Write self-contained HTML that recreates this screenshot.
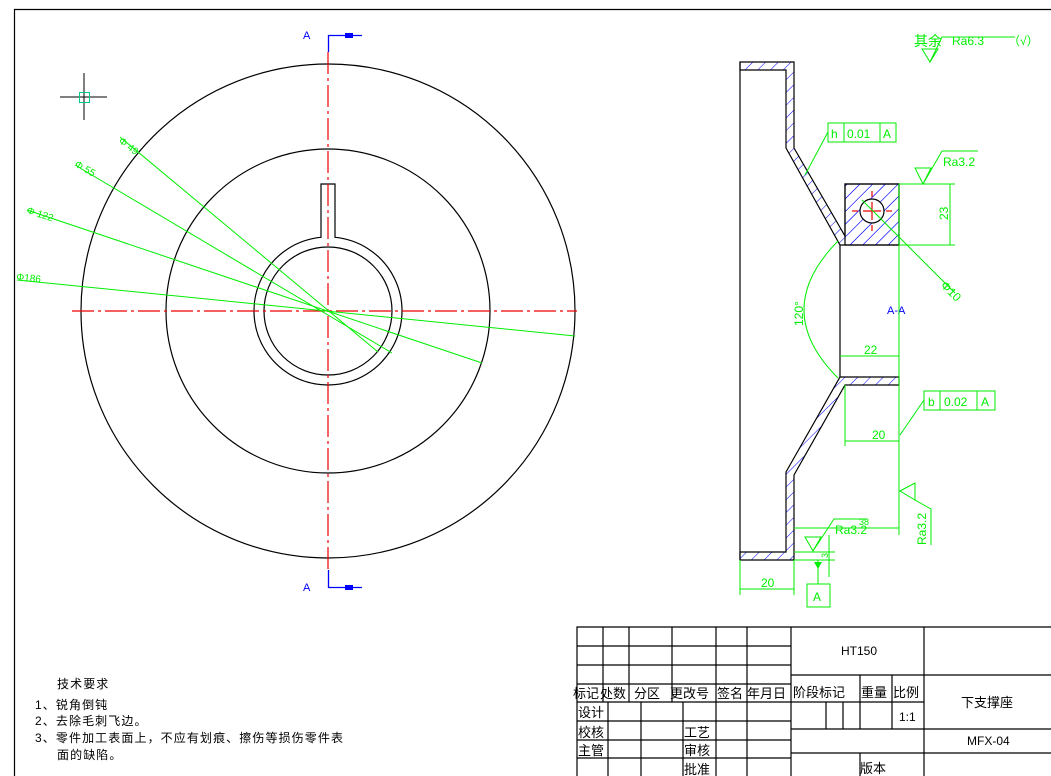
<!DOCTYPE html>
<html><head><meta charset="utf-8"><style>
html,body{margin:0;padding:0;background:#fff;}
svg{display:block}
text{font-family:"Liberation Sans","Noto Sans CJK SC",sans-serif;}
</style></head><body>
<svg width="1051" height="776" viewBox="0 0 1051 776" xmlns="http://www.w3.org/2000/svg">
<defs>
<pattern id="h" patternUnits="userSpaceOnUse" width="9" height="9" patternTransform="rotate(45)">
<line x1="0" y1="0" x2="0" y2="9" stroke="#00f" stroke-width="1"/>
</pattern>
</defs>
<rect width="1051" height="776" fill="#fff"/>
<path d="M14.5 776 V9.5 H1051" fill="none" stroke="#000" stroke-width="1.2"/>

<g stroke="#000" stroke-width="1"><line x1="60" y1="97" x2="107" y2="97"/><line x1="84" y1="73" x2="84" y2="120"/></g>
<rect x="79.5" y="92.5" width="10" height="10" fill="none" stroke="#0c8" stroke-width="1"/>

<g fill="none" stroke="#000" stroke-width="1.2">
<circle cx="328" cy="311" r="247"/>
<circle cx="328" cy="311" r="162"/>
<circle cx="328" cy="311" r="64"/>
<path d="M321 237.3 A74 74 0 1 0 335 237.3 V184 H321 Z" fill="none"/>
</g>
<g stroke="#e00" stroke-width="1.2" stroke-dasharray="22,4,3,4">
<line x1="328" y1="52" x2="328" y2="572"/>
<line x1="72" y1="311" x2="577" y2="311"/>
</g>
<g stroke="#00f" stroke-width="1.3" fill="none">
<path d="M328.5 52 V35.5 H362"/><path d="M328.5 570 V587.5 H362"/>
</g>
<rect x="345" y="33" width="8" height="5" fill="#00f"/><rect x="345" y="585" width="8" height="5" fill="#00f"/>
<text x="303" y="39" font-size="11" fill="#00f">A</text>
<text x="303" y="591" font-size="11" fill="#00f">A</text>

<g stroke="#0e0" stroke-width="1">
<line x1="17" y1="280" x2="575" y2="336"/>
<line x1="27" y1="210" x2="482" y2="363"/>
<line x1="75" y1="165" x2="392" y2="353"/>
<line x1="120" y1="137" x2="378" y2="352"/>
</g>
<g fill="#0e0" font-size="10">
<text x="16" y="280" transform="rotate(6 16 280)">Φ186</text>
<text x="26" y="213" transform="rotate(18 26 213)">Φ 122</text>
<text x="74" y="166" transform="rotate(30 74 166)">Φ 55</text>
<text x="118" y="142" transform="rotate(38 118 142)">Φ 49</text>
</g>

<g stroke="#000" stroke-width="1.2">
<path d="M740 62 H794 V148 L845 236 V184 H899 V245 H840 L786 148 V70 H740 Z" fill="url(#h)"/>
<path d="M840 377 H899 V385 H845 L794 475 V560 H740 V552 H786 V472 Z" fill="url(#h)"/>
<rect x="845" y="184" width="54" height="61" fill="url(#h)"/>
<line x1="740" y1="62" x2="740" y2="560"/>
<line x1="840" y1="245" x2="840" y2="377"/>
<circle cx="872" cy="211" r="12" fill="#fff"/>
</g>
<g stroke="#e00" stroke-width="1.2"><line x1="863" y1="211" x2="881" y2="211"/><line x1="872" y1="202" x2="872" y2="220"/><line x1="852" y1="211" x2="858" y2="211"/><line x1="886" y1="211" x2="892" y2="211"/><line x1="872" y1="191" x2="872" y2="197"/><line x1="872" y1="225" x2="872" y2="231"/></g>
<text x="887" y="314" font-size="11" fill="#00f">A-A</text>

<g stroke="#0e0" stroke-width="1" fill="none">
<line x1="899" y1="184" x2="955" y2="184"/><line x1="899" y1="245" x2="955" y2="245"/>
<line x1="950" y1="184" x2="950" y2="245"/>
<line x1="899" y1="184" x2="899" y2="535"/>
<path d="M915 168 L923 184 L931 168 Z"/><path d="M923 184 L942 151 H978"/>
<line x1="862" y1="200" x2="955" y2="293"/>
<path d="M838 241 Q770 310 838 378"/>
<line x1="840" y1="356" x2="899" y2="356"/>
<line x1="845" y1="385" x2="845" y2="446"/><line x1="845" y1="441" x2="899" y2="441"/>
<rect x="924" y="391" width="71" height="19"/><line x1="940" y1="391" x2="940" y2="410"/><line x1="977" y1="391" x2="977" y2="410"/>
<line x1="924" y1="400" x2="900" y2="435"/>
<rect x="828" y="123" width="68" height="19"/><line x1="844" y1="123" x2="844" y2="142"/><line x1="880" y1="123" x2="880" y2="142"/>
<line x1="828" y1="132" x2="805" y2="175"/>
<path d="M900 491 L915 483 V500 Z"/><path d="M915 500 L931 509 V545"/>
<line x1="794" y1="528" x2="899" y2="528"/>
<path d="M805 537 L813 551 L821 537 Z"/><path d="M813 551 L834 519 H867"/>
<line x1="794" y1="552" x2="835" y2="552"/><line x1="794" y1="560" x2="835" y2="560"/><line x1="829" y1="535" x2="829" y2="577"/>
<line x1="818" y1="560" x2="818" y2="584"/>
<rect x="807" y="584" width="23" height="23"/>
<line x1="740" y1="560" x2="740" y2="595"/><line x1="794" y1="560" x2="794" y2="595"/><line x1="740" y1="589" x2="794" y2="589"/>
<path d="M922 49 L930 62 L938 49 Z"/><path d="M930 62 L942 37 H1015"/>
</g>
<path d="M814 562 L822 562 L818 569 Z" fill="#0e0"/>
<g fill="#0e0" font-size="12">
<text x="939" y="219" transform="rotate(-90 944 215)">23</text>
<text x="943" y="166">Ra3.2</text>
<text x="940" y="286" transform="rotate(45 940 286)">Φ10</text>
<text x="793" y="328" transform="rotate(-90 797 322)">120°</text>
<text x="864" y="354">22</text>
<text x="872" y="439">20</text>
<text x="928" y="406">b</text><text x="944" y="406">0.02</text><text x="981" y="406">A</text>
<text x="831" y="138">h</text><text x="847" y="138">0.01</text><text x="883" y="138">A</text>
<text x="926" y="545" transform="rotate(-90 926 545)">Ra3.2</text>
<text x="835" y="534">Ra3.2</text><text x="859" y="525" font-size="9">38</text>
<text x="824" y="558" font-size="9" transform="rotate(-90 826 556)">3</text>
<text x="813" y="601">A</text>
<text x="761" y="587">20</text>
<text x="914" y="46" font-size="14">其余</text><text x="952" y="45">Ra6.3</text><text x="1008" y="45">（√）</text>
</g>

<g font-size="12" fill="#000" letter-spacing="1.1">
<text x="57" y="688">技术要求</text>
<text x="35" y="709">1、锐角倒钝</text>
<text x="35" y="725">2、去除毛刺飞边。</text>
<text x="35" y="742">3、零件加工表面上，不应有划痕、擦伤等损伤零件表</text>
<text x="57" y="759">面的缺陷。</text>
</g>

<g stroke="#000" stroke-width="1.2" fill="none">
<path d="M577 776 V627 H1051"/>
<line x1="577" y1="646" x2="791" y2="646"/><line x1="577" y1="665" x2="791" y2="665"/><line x1="577" y1="684" x2="791" y2="684"/><line x1="577" y1="702" x2="791" y2="702"/><line x1="577" y1="721" x2="791" y2="721"/><line x1="577" y1="740" x2="791" y2="740"/><line x1="577" y1="758" x2="791" y2="758"/>
<line x1="603" y1="627" x2="603" y2="702"/><line x1="629" y1="627" x2="629" y2="702"/><line x1="672" y1="627" x2="672" y2="702"/>
<line x1="608" y1="702" x2="608" y2="776"/><line x1="641" y1="702" x2="641" y2="776"/><line x1="683" y1="702" x2="683" y2="776"/>
<line x1="716" y1="627" x2="716" y2="776"/><line x1="747" y1="627" x2="747" y2="776"/><line x1="791" y1="627" x2="791" y2="776"/>
<line x1="791" y1="675" x2="1051" y2="675"/><line x1="791" y1="702" x2="924" y2="702"/><line x1="791" y1="729" x2="1051" y2="729"/><line x1="791" y1="753" x2="1051" y2="753"/>
<line x1="924" y1="627" x2="924" y2="776"/>
<line x1="860" y1="675" x2="860" y2="729"/><line x1="892" y1="675" x2="892" y2="729"/>
<line x1="826" y1="702" x2="826" y2="729"/><line x1="843" y1="702" x2="843" y2="729"/>
<line x1="860" y1="753" x2="860" y2="776"/>
</g>
<g font-size="13" fill="#000">
<text x="573" y="698">标记</text><text x="600" y="698">处数</text><text x="634" y="698">分区</text><text x="670" y="698">更改号</text><text x="717" y="698">签名</text><text x="747" y="698">年月日</text>
<text x="578" y="717">设计</text><text x="578" y="737">校核</text><text x="578" y="755">主管</text>
<text x="684" y="737">工艺</text><text x="684" y="755">审核</text><text x="684" y="774">批准</text>
<text x="793" y="697">阶段标记</text><text x="861" y="697">重量</text><text x="893" y="697">比例</text>
<text x="860" y="773">版本</text>
<text x="961" y="707">下支撑座</text>
</g>
<g font-size="12" fill="#000">
<text x="841" y="655">HT150</text>
<text x="899" y="721">1:1</text>
<text x="967" y="745">MFX-04</text>
</g>
</svg>
</body></html>
